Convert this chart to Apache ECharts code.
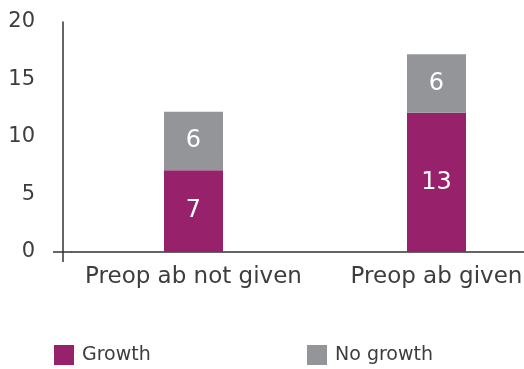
<!DOCTYPE html>
<html>
<head>
<meta charset="utf-8">
<script src="https://cdn.jsdelivr.net/npm/echarts@6/dist/echarts.min.js"></script>
<style>
  html, body { margin: 0; padding: 0; background: #fff; }
  #chart { width: 524px; height: 369px; }
</style>
</head>
<body>
<div id="chart"></div>
<script>
// categories and series (bar heights as drawn, labels as printed)
const categories = ['Preop ab not given', 'Preop ab given'];
const growth = [7.1, 12.1];
const noGrowth = [5.1, 5.1];
const growthLabels = ['7', '13'];
const noGrowthLabels = ['6', '6'];

const font = 'DejaVu Sans';
const textColor = '#3d3d3d';

const chart = echarts.init(document.getElementById('chart'));

const labelStyle = (texts) => ({
  show: true,
  position: 'inside',
  color: '#fff',
  fontFamily: font,
  fontSize: 24,
  formatter: (p) => texts[p.dataIndex]
});

const legendText = { fontFamily: font, fontSize: 19, color: textColor, padding: [4, 0, 0, 3] };

chart.setOption({
  animation: false,
  textStyle: { fontFamily: font },
  grid: { left: 72, top: 22, width: 486, bottom: 117, outerBoundsMode: 'none' },
  legend: [
    {
      data: ['Growth'], left: 54, top: 345, padding: 0, itemWidth: 20, itemHeight: 20,
      icon: 'rect', textStyle: legendText
    },
    {
      data: ['No growth'], left: 307, top: 345, padding: 0, itemWidth: 20, itemHeight: 20,
      icon: 'rect', textStyle: legendText
    }
  ],
  xAxis: {
    type: 'category',
    data: categories,
    axisLine: { lineStyle: { color: '#333', width: 1.5 } },
    axisTick: { show: false },
    axisLabel: { color: textColor, fontFamily: font, fontSize: 23, margin: 14, interval: 0 }
  },
  yAxis: {
    type: 'value',
    min: 0, max: 20, interval: 5,
    offset: 9,
    splitLine: { show: false },
    axisLine: { show: true, lineStyle: { color: '#333', width: 1.5 } },
    axisTick: { show: false },
    axisLabel: { color: textColor, fontFamily: font, fontSize: 21, margin: 28 }
  },
  // small cross where the axes meet
  graphic: [
    { type: 'line', shape: { x1: 53, y1: 252, x2: 72, y2: 252 }, style: { stroke: '#333', lineWidth: 1.5 } },
    { type: 'line', shape: { x1: 63, y1: 252, x2: 63, y2: 262 }, style: { stroke: '#333', lineWidth: 1.5 } }
  ],
  series: [
    {
      name: 'Growth', type: 'bar', stack: 'a', barWidth: 59,
      itemStyle: { color: '#97216a' },
      label: labelStyle(growthLabels),
      data: growth
    },
    {
      name: 'No growth', type: 'bar', stack: 'a', barWidth: 59,
      itemStyle: { color: '#939598' },
      label: labelStyle(noGrowthLabels),
      data: noGrowth
    }
  ]
});
</script>
</body>
</html>
